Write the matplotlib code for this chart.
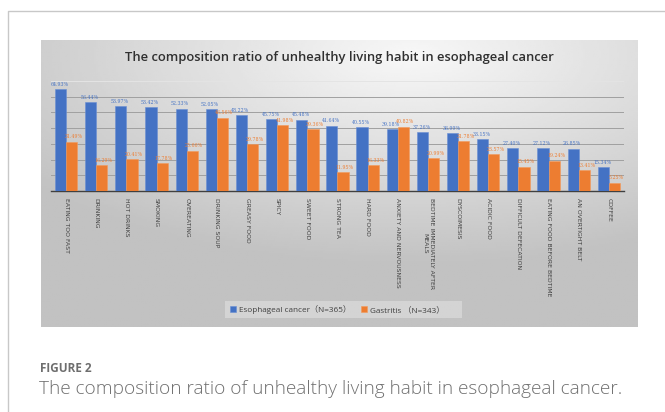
import numpy as np
import matplotlib
matplotlib.use("Agg")
from matplotlib.pyplot import *
from matplotlib.patches import Rectangle

#########################################
#DATA
#########################################
habits=["EATING TOO FAST","DRINKING","HOT DRINKS","SMOKING","OVEREATING",
        "DRINKING SOUP","GREASY FOOD","SPICY","SWEET FOOD","STRONG TEA",
        "HARD FOOD","ANXIETY AND NERVOUSNESS","BEDTIME IMMEDIATELY AFTER\nMEALS",
        "DYSCOIMESIS","ACIDIC FOOD","DIFFICULT DEFECATION",
        "EATING FOOD BEFORE BEDTIME","AN OVERTIGHT BELT","COFFEE"]
cancer=[64.93,56.44,53.97,53.42,52.33,52.05,48.22,45.75,45.48,41.64,
        40.55,39.18,37.26,36.99,33.15,27.40,27.12,26.85,15.34]
gastritis=[31.49,16.29,20.41,17.78,25.66,46.56,29.78,41.98,39.36,11.95,
           16.33,40.82,20.99,31.78,23.57,15.45,19.24,13.41,5.25]
series_names=["Esophageal cancer\uff08N=365\uff09","Gastritis \uff08N=343\uff09"]

#########################################
#FIGURE
#########################################
W,H=665,412
fig=figure(figsize=(W/100,H/100),dpi=100)
fig.patch.set_facecolor("white")

def box(x0,y0,x1,y1):
    #pixel box (top-left origin) -> figure fraction
    return [x0/W,1-y1/H,(x1-x0)/W,(y1-y0)/H]

#page frame
frame=fig.add_axes([0,0,1,1])
frame.set_xlim(0,W)
frame.set_ylim(H,0)
frame.axis("off")
frame.plot([8,8,W],[H,11,11],color="#c8c8c8",lw=1)

#caption
frame.text(40,368,"FIGURE 2",fontsize=8.5,fontweight="bold",color="#6e6e6e",
           family="Open Sans",va="center",ha="left")
frame.text(39,389,"The composition ratio of unhealthy living habit in esophageal cancer.",
           fontsize=13.7,color="#707070",family="Open Sans",fontweight="light",
           va="center",ha="left")

#########################################
#GRADIENT BACKGROUND OF THE CHART IMAGE
#########################################
X0,Y0,X1,Y1=41,40,638,327
bg=fig.add_axes(box(X0,Y0,X1,Y1))
gx,gy=np.meshgrid(np.linspace(0,1,300),np.linspace(0,1,150))
d=np.sqrt(((gx-0.62)*1.0)**2+((gy-0.05)*1.1)**2)
shade=np.clip(0.97-0.26*d,0.76,0.97)
bg.imshow(shade,cmap="gray",vmin=0,vmax=1,aspect="auto",extent=(0,1,1,0))
bg.set_xlim(0,1)
bg.set_ylim(1,0)
bg.axis("off")

def fy(py):
    #pixel row -> fraction of the background axes (bottom origin)
    return 1-(py-Y0)/(Y1-Y0)

#chart title
bg.text(0.5,fy(58),"The composition ratio of unhealthy living habit in esophageal cancer",
        transform=bg.transAxes,ha="center",va="center",fontsize=9.4,
        family="Open Sans",fontweight="semibold",color="#303030")

#legend strip
bg.add_patch(Rectangle(((225-X0)/(X1-X0),fy(318)),(462-225)/(X1-X0),(318-301)/(Y1-Y0),
             transform=bg.transAxes,facecolor="white",edgecolor="none",alpha=0.3))

#########################################
#BARS
#########################################
ax=fig.add_axes(box(51,81,624,191))
ax.patch.set_alpha(0)
x=np.arange(len(habits))
bw=0.37
b1=ax.bar(x-bw/2,cancer,bw,color="#4472c4",edgecolor="#6a8fd4",lw=0.4,zorder=3)
b2=ax.bar(x+bw/2,gastritis,bw,color="#ed7d31",edgecolor="#f29a5c",lw=0.4,zorder=3)
ax.set_xlim(-0.5,len(habits)-0.5)
ax.set_ylim(0,70)
ax.set_yticks(np.arange(10,71,10))
ax.yaxis.grid(True,color="#a0a0a0",lw=0.7,zorder=0)
ax.get_ygridlines()[-1].set_color("#e4e4e4")
ax.tick_params(axis="y",length=0,labelleft=False)
ax.tick_params(axis="x",length=0,pad=5)
for s in ["top","right","left"]:
    ax.spines[s].set_visible(False)
ax.spines["bottom"].set_color("#404040")
ax.spines["bottom"].set_linewidth(1.0)
ax.set_xticks(x)
ax.set_xticklabels(habits,rotation=270,fontsize=4.4,color="#404040",
                   va="top",ha="center",family="DejaVu Sans",linespacing=1.3)

for bar,v in zip(b1,cancer):
    ax.text(bar.get_x()+bar.get_width()/2-0.04,v+1.5,"%.2f%%"%v,ha="center",va="bottom",
            fontsize=3.4,color="#4472c4",family="DejaVu Serif")
for bar,v in zip(b2,gastritis):
    ax.text(bar.get_x()+bar.get_width()/2+0.06,v+1.5,"%.2f%%"%v,ha="center",va="bottom",
            fontsize=3.4,color="#ed7d31",family="DejaVu Serif")

#########################################
#LEGEND
#########################################
leg=ax.legend([b1,b2],series_names,loc="center",bbox_to_anchor=(0.5,(191-309.5)/110),
              ncol=2,frameon=False,handlelength=0.7,handleheight=0.7,
              handletextpad=0.4,columnspacing=1.2,
              prop={"family":["Open Sans","Noto Sans CJK SC"],"size":5.9})
for t in leg.get_texts():
    t.set_color("#404040")

savefig("out.png",dpi=100)
